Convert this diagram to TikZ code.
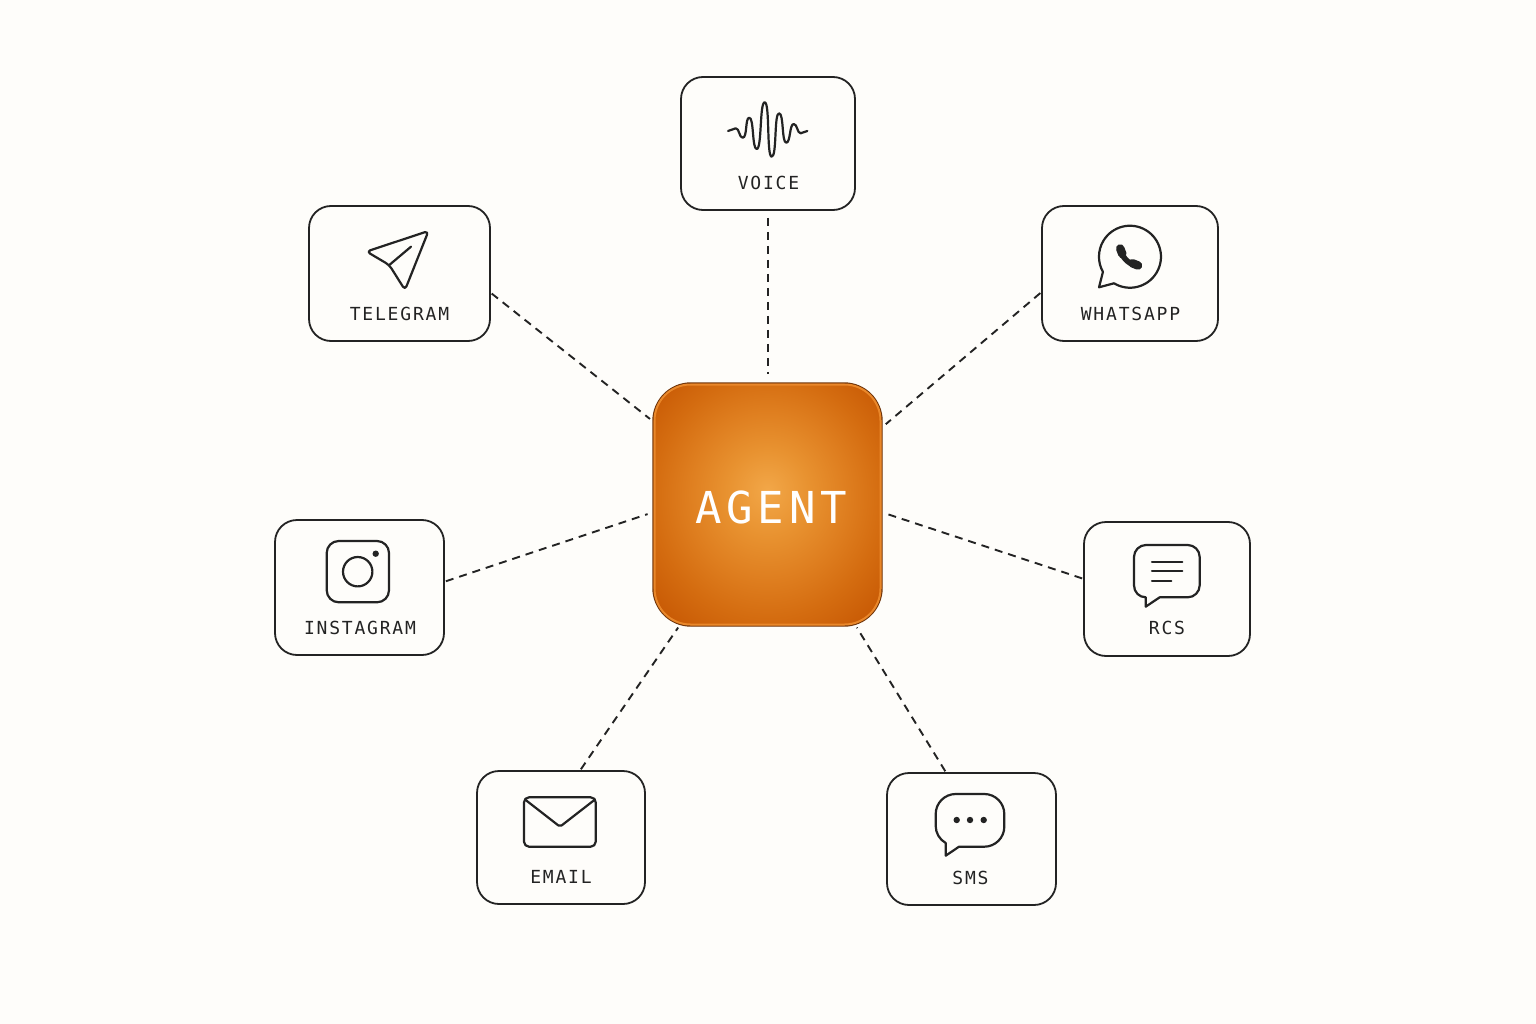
\documentclass[tikz,border=0pt]{standalone}
\usepackage{fontspec}
\newfontfamily\chanfont[LetterSpace=10]{DejaVu Sans Mono}
\newfontfamily\agentfont[LetterSpace=11]{DejaVu Sans Mono}
\definecolor{paper}{HTML}{FEFDFA}
\definecolor{ink}{HTML}{232323}
\definecolor{glowA}{HTML}{F2A748}
\definecolor{glowB}{HTML}{E89230}
\definecolor{glowC}{HTML}{DF7F20}
\definecolor{glowD}{HTML}{D46C10}
\definecolor{glowE}{HTML}{C85A05}
\definecolor{agentrim}{HTML}{E9872A}
\definecolor{agentedge}{HTML}{70350A}
\pgfdeclareradialshading{agentglow}{\pgfpoint{0bp}{3bp}}{%
  color(0bp)=(glowA); color(9bp)=(glowB); color(17bp)=(glowC); color(25bp)=(glowD); color(33bp)=(glowE); color(50bp)=(glowE)}
\tikzset{
  chanbox/.style={draw=ink,line width=1.8pt,fill=paper,rounded corners=22pt,inner sep=0pt},
  chanlabel/.style={text=ink,font=\chanfont\fontsize{18pt}{18pt}\selectfont,inner sep=0pt},
  link/.style={draw=ink,line width=1.9pt,dash pattern=on 8pt off 6pt},
  icon/.style={draw=ink,line width=2.2pt,line join=round,line cap=round},
  dotmark/.style={fill=ink,draw=none},
}
\begin{document}
\begin{tikzpicture}[x=1pt,y=-1pt]
\useasboundingbox (0,0) rectangle (1536,1024);
\fill[paper] (0,0) rectangle (1536,1024);

% Agent
\node[shading=agentglow,draw=agentedge,line width=1.4pt,rounded corners=38pt,minimum width=229pt,minimum height=243pt,inner sep=0pt] (agent) at (767.5,504.5) {};
\draw[agentrim,line width=2pt,rounded corners=36pt] ([shift={(2.2,2.2)}]agent.north west) rectangle ([shift={(-2.2,-2.2)}]agent.south east);
\node[text=white,font=\agentfont\fontsize{44pt}{44pt}\selectfont,inner sep=0pt] (agentname) at (771,507) {AGENT};

% Channel boxes
\node[chanbox,minimum width=174pt,minimum height=133pt] (voice) at (768,143.5) {};
\node[chanbox,minimum width=181pt,minimum height=135pt] (telegram) at (399.5,273.5) {};
\node[chanbox,minimum width=176pt,minimum height=135pt] (whatsapp) at (1130,273.5) {};
\node[chanbox,minimum width=169pt,minimum height=135pt] (instagram) at (359.5,587.5) {};
\node[chanbox,minimum width=166pt,minimum height=134pt] (rcs) at (1167,589) {};
\node[chanbox,minimum width=168pt,minimum height=133pt] (email) at (561,837.5) {};
\node[chanbox,minimum width=169pt,minimum height=132pt] (sms) at (971.5,839) {};

% Labels
\node[chanlabel] (voicelabel) at (768.5,183) {VOICE};
\node[chanlabel] (telegramlabel) at (399.5,313.5) {TELEGRAM};
\node[chanlabel] (whatsapplabel) at (1130.5,313.5) {WHATSAPP};
\node[chanlabel] (instagramlabel) at (360,628) {INSTAGRAM};
\node[chanlabel] (rcslabel) at (1167,628) {RCS};
\node[chanlabel] (emaillabel) at (561,877) {EMAIL};
\node[chanlabel] (smslabel) at (970.5,878) {SMS};

% Connectors
\draw[link,shorten <=7pt,shorten >=8pt] (voice.south) -- (voice.south |- agent.north);
\draw[link,shorten <=1pt,shorten >=3pt] (telegram.-12.8) -- (agent.144.3);
\draw[link,shorten <=1pt,shorten >=4pt] (whatsapp.192.8) -- (agent.34.4);
\draw[link,shorten <=1pt,shorten >=5pt] (instagram.4.4) -- (agent.184.4);
\draw[link,shorten <=1pt,shorten >=2pt] (rcs.173.3) -- (agent.-4.9);
\draw[link,shorten <=1pt,shorten >=1pt] (email.74) -- (agent.234.7);
\draw[link,shorten <=1pt,shorten >=1pt] (sms.111.1) -- (agent.-54.9);

% Voice icon
\draw[icon] (728,131) .. controls (731,131) and (733,128.3) .. (735.7,128.3)
  .. controls (739.5,128.3) and (739,137.7) .. (742.7,137.7)
  .. controls (747.5,137.7) and (745,117.7) .. (749.3,117.7)
  .. controls (754,117.7) and (752,149) .. (756.7,149)
  .. controls (762,149) and (759.5,102.3) .. (764.7,102.3)
  .. controls (770,102.3) and (766.5,156.7) .. (771.7,156.7)
  .. controls (777,156.7) and (774,113.3) .. (779,113.3)
  .. controls (784,113.3) and (781.5,142.7) .. (786.3,142.7)
  .. controls (790.5,142.7) and (789.5,124) .. (793.7,124)
  .. controls (797.5,124) and (797,133.3) .. (800.7,133.3)
  .. controls (803,133.3) and (804.5,131) .. (807.3,131);

% Telegram icon
\draw[icon,rounded corners=4pt] (389.3,265) -- (366.5,251.5) -- (428.5,231) -- (405,290) -- cycle;
\draw[icon] (389.3,265) -- (411,246.7);

% WhatsApp icon
\draw[icon] (1114,283.3) arc[start angle=121,end angle=-209.3,radius=31] -- (1099,287.3) -- cycle;
\draw[ink,line width=5.5pt,line cap=round] (1120.5,249.5) .. controls (1121.5,256) and (1128,265) .. (1138,265.5);
\draw[ink,line width=8.5pt,line cap=round] (1120.2,248.5) -- (1122.3,254);
\draw[ink,line width=8.5pt,line cap=round] (1132.5,263.3) -- (1138,265.5);

% Instagram icon
\draw[icon,rounded corners=12pt] (326.7,541) rectangle (389,602.3);
\draw[icon] (357.7,571.7) circle[radius=14.7];
\fill[dotmark] (375.7,553.7) circle[radius=3.2];

% RCS icon
\draw[icon] (1146,545) -- (1187.7,545) .. controls (1194.3,545) and (1199.7,550.4) .. (1199.7,557)
  -- (1199.7,585.3) .. controls (1199.7,591.9) and (1194.3,597.3) .. (1187.7,597.3)
  -- (1159.7,597.3) -- (1145.7,606.7) -- (1145.7,597.3)
  .. controls (1139,597.3) and (1134,592) .. (1134,585.3)
  -- (1134,557) .. controls (1134,550.4) and (1139.4,545) .. (1146,545) -- cycle;
\draw[icon] (1152,561.7) -- (1182.3,561.7);
\draw[icon] (1152,571) -- (1182.3,571);
\draw[icon] (1152,581) -- (1171.3,581);

% Email icon
\draw[icon,rounded corners=5pt] (524,797.3) rectangle (595.7,846.7);
\draw[icon,rounded corners=2pt] (525,799.5) -- (560,826.7) -- (595,799.5);

% SMS icon
\draw[icon] (955.7,794) -- (984.3,794) .. controls (995.3,794) and (1004.3,803) .. (1004.3,814)
  -- (1004.3,826.7) .. controls (1004.3,837.7) and (995.3,846.7) .. (984.3,846.7)
  -- (959,846.7) -- (945.7,855.7) -- (945.7,843)
  .. controls (939.5,839.5) and (935.7,833) .. (935.7,826)
  -- (935.7,814) .. controls (935.7,803) and (944.7,794) .. (955.7,794) -- cycle;
\fill[dotmark] (956.7,820) circle[radius=3.2];
\fill[dotmark] (970,820) circle[radius=3.2];
\fill[dotmark] (983.7,820) circle[radius=3.2];
\end{tikzpicture}
\end{document}
